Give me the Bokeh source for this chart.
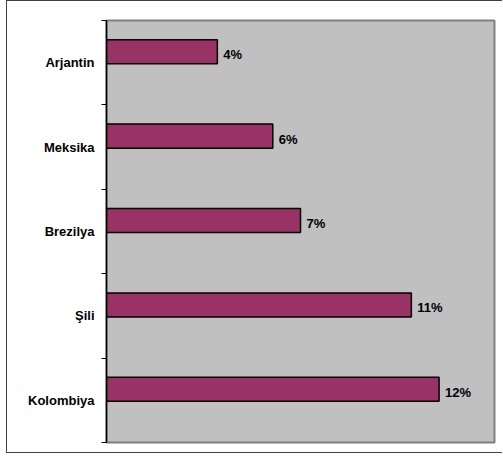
from bokeh.plotting import figure
from bokeh.models import FixedTicker, Range1d, ColumnDataSource
from bokeh.core.properties import value
from bokeh.embed import file_html
from bokeh.resources import INLINE

# Data (top to bottom in the chart)
countries = ["Arjantin", "Meksika", "Brezilya", "Şili", "Kolombiya"]
shares = [4, 6, 7, 11, 12]
share_labels = ["4%", "6%", "7%", "11%", "12%"]

n = len(countries)
centers = [n - 0.5 - i for i in range(n)]
bar_y = [c + 0.13 for c in centers]

src = ColumnDataSource(dict(y=bar_y, v=shares, lab=share_labels))

p = figure(width=496, height=453, output_backend="svg", toolbar_location=None,
           x_range=Range1d(0, 14), y_range=Range1d(0, n),
           min_border_left=99, min_border_right=9, min_border_top=19, min_border_bottom=12,
           x_axis_location=None)
p.styles = {"border-top": "1px solid #404040", "border-left": "1px solid #404040",
            "border-bottom": "1px solid #404040", "margin-left": "6px"}
p.background_fill_color = "#C0C0C0"
p.border_fill_color = "white"
p.outline_line_color = "#808080"
p.outline_line_width = 2
p.xgrid.visible = False
p.ygrid.visible = False

p.hbar(y="y", right="v", left=0, height=0.285, source=src,
       fill_color="#993366", line_color="black", line_width=1.5)

p.text(x="v", y="y", text="lab", source=src, x_offset=6, y_offset=3,
       text_baseline="middle", text_align="left",
       text_font=value("Liberation Sans"), text_font_style="bold",
       text_font_size="13px", text_color="black")

ax = p.yaxis[0]
ax.ticker = FixedTicker(ticks=centers, minor_ticks=list(range(n + 1)))
ax.major_label_overrides = {c: name for c, name in zip(centers, countries)}
ax.major_tick_out = 0
ax.major_tick_in = 0
ax.minor_tick_out = 5
ax.minor_tick_in = 0
ax.minor_tick_line_color = "black"
ax.axis_line_color = "black"
ax.axis_line_width = 1.5
ax.major_label_standoff = 7
ax.major_label_text_font = "Liberation Sans"
ax.major_label_text_font_style = "bold"
ax.major_label_text_font_size = "13px"
ax.major_label_text_color = "black"

open("out.html", "w").write(file_html(p, INLINE))
